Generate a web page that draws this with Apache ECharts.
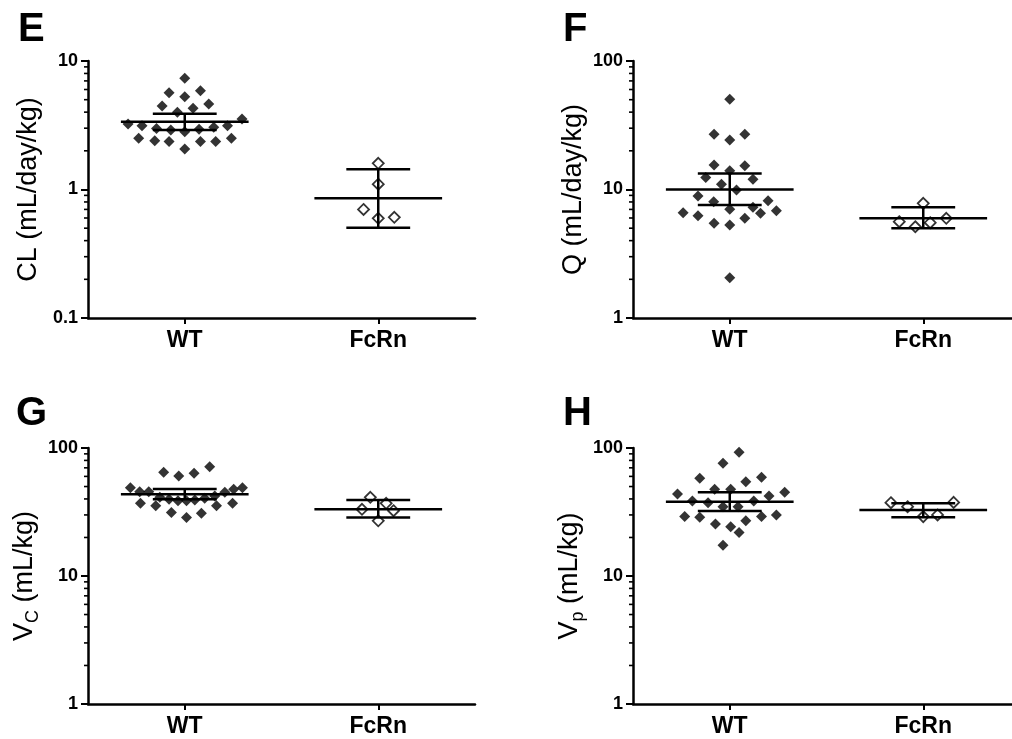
<!DOCTYPE html>
<html><head><meta charset="utf-8">
<script src="https://cdn.jsdelivr.net/npm/echarts@6/dist/echarts.min.js"></script>
<style>html,body{margin:0;padding:0;background:#fff}#c{width:1012px;height:739px}</style>
</head><body><div id="c"></div>
<script>
// ---------- data ----------
const categories = ['WT', 'FcRn'];
const panelLetters = ['E', 'F', 'G', 'H'];

// Panel E: CL (mL/day/kg)
const clWT = [7.33, 5.67, 5.87, 5.28, 4.47, 4.29, 4.63, 3.99, 3.23, 3.14, 3.53, 3.14, 2.99, 2.90, 2.82, 2.94, 3.05, 2.50, 2.40, 2.36, 2.36, 2.36, 2.50, 2.07];
const clWTJitter = [0, -0.081, 0.081, 0, -0.117, 0.043, 0.124, -0.038, -0.293, -0.221, 0.296, 0.221, -0.146, -0.072, 0, 0.074, 0.150, -0.238, -0.155, -0.081, 0.081, 0.160, 0.241, 0];
const clFc = [1.60, 1.10, 0.70, 0.597, 0.608];
const clFcJitter = [0, 0, -0.076, 0, 0.083];
const clMean = [3.37, 0.854];
const clLower = [2.90, 0.505];
const clUpper = [3.89, 1.44];

// Panel F: Q (mL/day/kg)
const qWT = [50.3, 26.9, 26.9, 24.3, 15.5, 15.3, 14.0, 12.4, 12.0, 11.0, 9.91, 8.90, 8.04, 8.18, 7.27, 7.01, 6.60, 6.84, 6.25, 6.52, 5.97, 5.46, 5.29, 2.06];
const qWTJitter = [0, -0.081, 0.078, 0, -0.081, 0.078, 0, -0.124, 0.120, -0.043, 0.035, -0.164, -0.083, 0.198, 0.120, 0, -0.241, 0.241, -0.164, 0.159, 0.078, -0.081, 0, 0];
const qFc = [7.80, 5.62, 5.13, 5.52, 5.97];
const qFcJitter = [0, -0.124, -0.041, 0.036, 0.119];
const qMean = [10.0, 5.97];
const qLower = [7.58, 4.99];
const qUpper = [13.3, 7.27];

// Panel G: Vc (mL/kg)
const vcWT = [71.4, 64.6, 63.4, 60.4, 49.0, 49.0, 47.6, 45.6, 45.6, 45.2, 41.2, 39.7, 38.8, 38.8, 39.3, 40.5, 42.2, 37.0, 35.4, 35.4, 37.0, 31.4, 30.9, 28.6];
const vcWTJitter = [0.129, -0.109, 0.048, -0.031, -0.281, 0.298, 0.253, -0.233, -0.186, 0.207, -0.129, -0.081, -0.035, 0.009, 0.052, 0.103, 0.155, -0.229, -0.150, 0.164, 0.247, -0.069, 0.086, 0.009];
const vcFc = [41.2, 33.2, 37.0, 32.4, 27.0];
const vcFcJitter = [-0.041, -0.084, 0.041, 0.079, 0];
const vcMean = [43.5, 33.2];
const vcLower = [39.7, 28.6];
const vcUpper = [47.8, 39.2];

// Panel H: Vp (mL/kg)
const vpWT = [92.5, 75.9, 58.0, 59.0, 54.5, 47.6, 47.6, 43.7, 45.1, 42.2, 38.5, 37.4, 38.5, 34.8, 34.8, 29.1, 28.8, 29.1, 30.0, 27.0, 25.5, 24.3, 21.9, 17.4];
const vpWTJitter = [0.048, -0.035, -0.155, 0.164, 0.083, -0.078, 0.005, -0.270, 0.284, 0.203, -0.193, -0.112, 0.124, -0.035, 0.043, -0.233, -0.155, 0.164, 0.241, 0.083, -0.074, 0.005, 0.048, -0.035];
const vpFc = [37.4, 34.8, 29.1, 30.0, 37.6];
const vpFcJitter = [-0.167, -0.081, 0, 0.074, 0.157];
const vpMean = [38.1, 32.8];
const vpLower = [32.2, 28.8];
const vpUpper = [45.1, 37.0];

// axis ranges and titles
const yMins = [0.1, 1, 1, 1];
const yMaxs = [10, 100, 100, 100];
const yNames = ['CL (mL/day/kg)', 'Q (mL/day/kg)', '{v|V}{sub|C} (mL/kg)', '{v|V}{sub|p} (mL/kg)'];

// ---------- layout / style ----------
const FONT = '"Liberation Sans", Arial, Helvetica, sans-serif';
const grids = [
  { left: 88, top: 61, width: 387, height: 257 },
  { left: 633, top: 61, width: 387, height: 257 },
  { left: 88, top: 448, width: 387, height: 256 },
  { left: 633, top: 448, width: 387, height: 256 }
];
const letterPos = [[18, 10], [563, 10], [16, 394], [563, 394]];
const MEAN_HALF = 0.33, CAP_HALF = 0.165, LW = 2.5;

const panels = [
  [clWT, clWTJitter, clFc, clFcJitter, clMean, clLower, clUpper],
  [qWT, qWTJitter, qFc, qFcJitter, qMean, qLower, qUpper],
  [vcWT, vcWTJitter, vcFc, vcFcJitter, vcMean, vcLower, vcUpper],
  [vpWT, vpWTJitter, vpFc, vpFcJitter, vpMean, vpLower, vpUpper]
];

function minorTicks(min, max) {
  const out = [];
  for (let d = min; d < max; d *= 10) {
    for (let m = 2; m <= 9; m++) out.push(+(m * d).toPrecision(3));
  }
  return out;
}

const option = {
  animation: false,
  backgroundColor: '#fff',
  title: panelLetters.map((t, i) => ({
    text: t, left: letterPos[i][0], top: letterPos[i][1], padding: 0,
    textStyle: { fontFamily: FONT, fontSize: 40, fontWeight: 'bold', color: '#000' }
  })),
  grid: grids.map(g => Object.assign({ containLabel: false, outerBoundsMode: 'none' }, g)),
  xAxis: [],
  yAxis: [],
  series: []
};

panels.forEach((p, i) => {
  option.xAxis.push({
    type: 'category', gridIndex: i, data: categories, boundaryGap: true,
    axisLine: { show: true, lineStyle: { color: '#000', width: LW } },
    axisTick: { show: true, alignWithLabel: true, length: 6, lineStyle: { color: '#000', width: 2 } },
    axisLabel: { fontFamily: FONT, fontSize: 23, fontWeight: 'bold', color: '#000', margin: 11 },
    splitLine: { show: false }
  });
  option.yAxis.push({
    type: 'log', logBase: 10, gridIndex: i, min: yMins[i], max: yMaxs[i],
    axisLine: { show: true, lineStyle: { color: '#000', width: LW } },
    axisTick: { show: true, length: 7, lineStyle: { color: '#000', width: 2 } },
    axisLabel: {
      fontFamily: FONT, fontSize: 18, fontWeight: 'bold', color: '#000', margin: 10,
      formatter: v => String(+(+v).toPrecision(3))
    },
    splitLine: { show: false },
    minorTick: { show: false },
    name: yNames[i], nameLocation: 'middle', nameGap: 46, nameRotate: 90,
    nameTextStyle: {
      fontFamily: FONT, fontSize: 27, color: '#000',
      rich: {
        v: { fontFamily: FONT, fontSize: 27, color: '#000', lineHeight: 34, verticalAlign: 'middle' },
        sub: { fontFamily: FONT, fontSize: 18, color: '#000', lineHeight: 18, verticalAlign: 'bottom' }
      }
    }
  });
});
// hidden value x axes for jittered points
panels.forEach((p, i) => {
  option.xAxis.push({ type: 'value', gridIndex: i, min: 0, max: 2, show: false });
});

panels.forEach((p, i) => {
  const [wt, wtJ, fc, fcJ, mean, lo, hi] = p;
  const xi = 4 + i;
  option.series.push({
    type: 'scatter', xAxisIndex: xi, yAxisIndex: i, silent: true,
    symbol: 'diamond', symbolSize: 11,
    itemStyle: { color: '#000' },
    data: wt.map((v, k) => [0.5 + wtJ[k], v]), z: 2
  });
  option.series.push({
    type: 'scatter', xAxisIndex: xi, yAxisIndex: i, silent: true,
    symbol: 'diamond', symbolSize: 11,
    itemStyle: { color: '#fff', borderColor: '#000', borderWidth: 1.8 },
    data: fc.map((v, k) => [1.5 + fcJ[k], v]), z: 2
  });
  option.series.push({
    type: 'custom', xAxisIndex: xi, yAxisIndex: i, silent: true, z: 3,
    data: categories.map((c, k) => [0.5 + k, mean[k], lo[k], hi[k]]),
    renderItem: (params, api) => {
      const c = api.value(0);
      const pm = api.coord([c, api.value(1)]);
      const pl = api.coord([c, api.value(2)]);
      const ph = api.coord([c, api.value(3)]);
      const mh = api.coord([c + MEAN_HALF, api.value(1)])[0] - pm[0];
      const ch = api.coord([c + CAP_HALF, api.value(1)])[0] - pm[0];
      const st = { stroke: '#000', lineWidth: LW };
      return {
        type: 'group', children: [
          { type: 'line', shape: { x1: pm[0] - mh, y1: pm[1], x2: pm[0] + mh, y2: pm[1] }, style: st },
          { type: 'line', shape: { x1: pm[0] - ch, y1: ph[1], x2: pm[0] + ch, y2: ph[1] }, style: st },
          { type: 'line', shape: { x1: pm[0] - ch, y1: pl[1], x2: pm[0] + ch, y2: pl[1] }, style: st },
          { type: 'line', shape: { x1: pm[0], y1: pl[1], x2: pm[0], y2: ph[1] }, style: st }
        ]
      };
    }
  });
  option.series.push({
    type: 'custom', xAxisIndex: xi, yAxisIndex: i, silent: true, z: 3, clip: false,
    data: minorTicks(yMins[i], yMaxs[i]).map(v => [0, v]),
    renderItem: (params, api) => {
      const y = api.coord([0, api.value(1)])[1];
      const x0 = params.coordSys.x;
      return { type: 'line', shape: { x1: x0 - 4, y1: y, x2: x0, y2: y }, style: { stroke: '#000', lineWidth: 1.6 } };
    }
  });
});

const chart = echarts.init(document.getElementById('c'), null, { renderer: 'canvas' });
chart.setOption(option);
</script>
</body></html>
